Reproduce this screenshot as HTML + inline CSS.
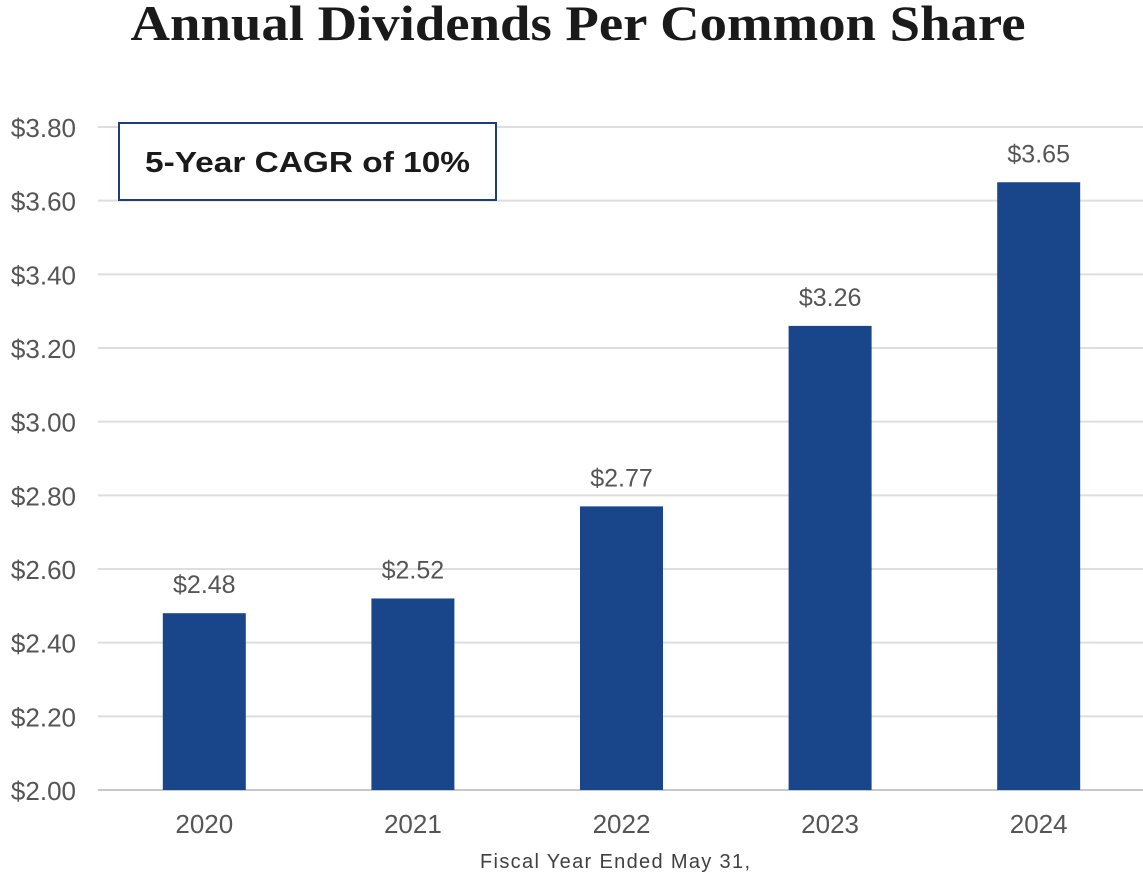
<!DOCTYPE html>
<html><head><meta charset="utf-8"><style>
body{margin:0;background:#fff;width:1143px;height:873px;overflow:hidden}
svg{display:block}
</style></head><body>
<svg width="1143" height="873">
<text x="578" y="40" text-anchor="middle" font-family="Liberation Serif, serif" font-weight="bold" font-size="50" fill="#1a1a1a" textLength="895" lengthAdjust="spacingAndGlyphs">Annual Dividends Per Common Share</text>
<g id="grid"></g>
<g id="bars"></g>
<rect x="119" y="123" width="377" height="77" fill="#fff" stroke="#1b3f7c" stroke-width="2"/>
<text x="145" y="172" font-family="Liberation Sans, sans-serif" font-weight="bold" font-size="29" fill="#1a1a1a" textLength="325" lengthAdjust="spacingAndGlyphs">5-Year CAGR of 10%</text>
<text x="615" y="868" text-anchor="middle" font-family="Liberation Sans, sans-serif" font-size="20" fill="#404040" textLength="270" lengthAdjust="spacing">Fiscal Year Ended May 31,</text>
</svg>
<script>
const categories=["2020","2021","2022","2023","2024"];
const values=[2.48,2.52,2.77,3.26,3.65];
const valueLabels=["$2.48","$2.52","$2.77","$3.26","$3.65"];
const yTicks=[2.0,2.2,2.4,2.6,2.8,3.0,3.2,3.4,3.6,3.8];
const NS="http://www.w3.org/2000/svg";
const y=v=>790-(v-2.0)/1.8*663;
const x0=100,band=208.6,bw=83;
const g=document.getElementById('grid'),b=document.getElementById('bars');
function mk(tag,attrs,parent,txt){const e=document.createElementNS(NS,tag);for(const k in attrs)e.setAttribute(k,attrs[k]);if(txt!==undefined)e.textContent=txt;parent.appendChild(e);return e;}
yTicks.forEach(t=>{
 const l=mk('line',{x1:98,x2:1143,y1:y(t),y2:y(t),stroke:t===2?'#c8c8c8':'#dedede','stroke-width':2},g);
 
 
 const tx=mk('text',{x:76,y:y(t)+10,'text-anchor':'end','font-family':'Liberation Sans, sans-serif','font-size':26,fill:'#555'},g,'$'+t.toFixed(2));
 
 
});
categories.forEach((c,i)=>{
 const cx=x0+band*(i+0.5);
 const r=mk('rect',{x:cx-bw/2,y:y(values[i]),width:bw,height:790-y(values[i]),fill:'#19468b'},b);
 
 
 const v=mk('text',{x:cx,y:y(values[i])-20,'text-anchor':'middle','font-family':'Liberation Sans, sans-serif','font-size':25,fill:'#555'},b,valueLabels[i]);
 
 
 const xl=mk('text',{x:cx,y:833,'text-anchor':'middle','font-family':'Liberation Sans, sans-serif','font-size':26,fill:'#555'},b,c);
 
 
});
</script>
</body></html>
